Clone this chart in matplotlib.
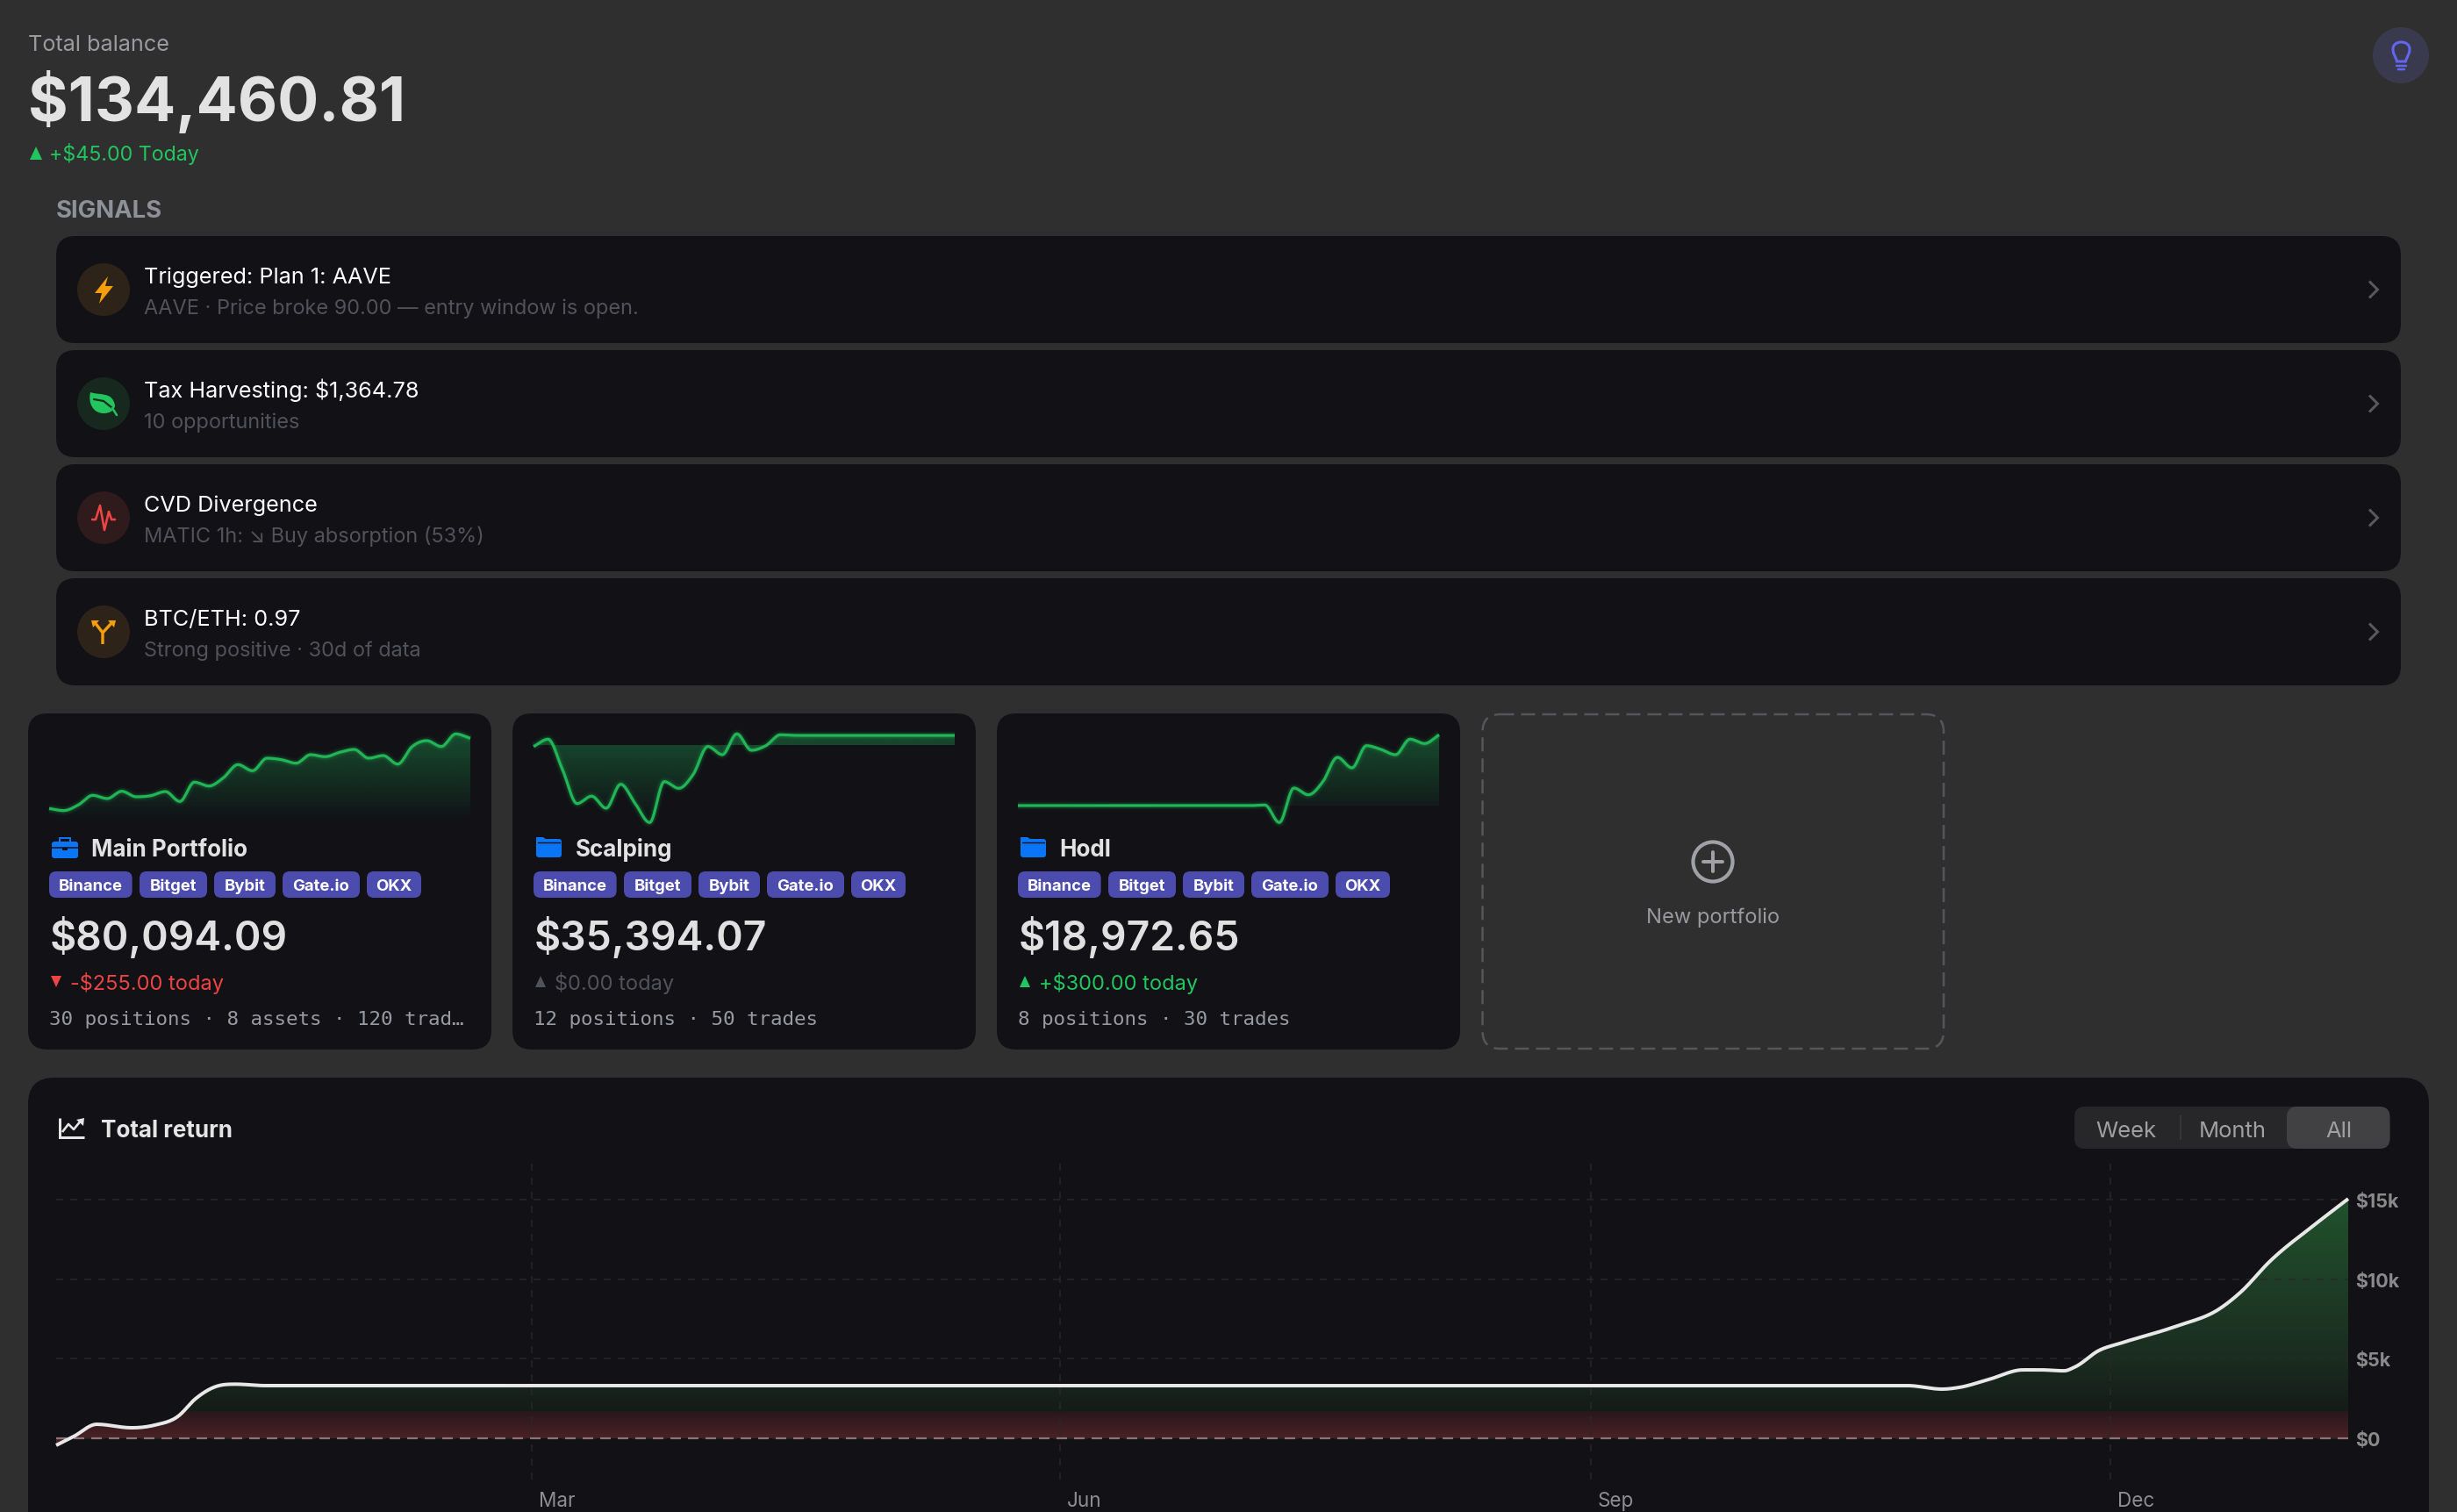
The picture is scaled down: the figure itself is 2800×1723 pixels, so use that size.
import numpy as np
import matplotlib
matplotlib.use("Agg")
import matplotlib.pyplot as plt
from matplotlib.patches import FancyBboxPatch, Circle, Polygon, PathPatch, Rectangle
from matplotlib.path import Path
from matplotlib.transforms import ScaledTranslation

W, H = 2800, 1724
PX = 0.72
plt.rcParams['font.family'] = ['Inter', 'DejaVu Sans']

# ------------------ data ------------------
total_balance = "$134,460.81"
signal_titles = ["Triggered: Plan 1: AAVE", "Tax Harvesting: $1,364.78", "CVD Divergence", "BTC/ETH: 0.97"]
signal_subs = ["AAVE · Price broke 90.00 — entry window is open.", "10 opportunities",
               "MATIC 1h: ↘ Buy absorption (53%)", "Strong positive · 30d of data"]
exchanges = ["Binance", "Bitget", "Bybit", "Gate.io", "OKX"]
portfolio_names = ["Main Portfolio", "Scalping", "Hodl"]
portfolio_values = ["$80,094.09", "$35,394.07", "$18,972.65"]
portfolio_changes = ["-$255.00 today", "$0.00 today", "+$300.00 today"]
portfolio_stats = ["30 positions · 8 assets · 120 trad…", "12 positions · 50 trades", "8 positions · 30 trades"]

spark_main = [17.7, 15.3, 21.7, 32.7, 29, 37.3, 31, 32.3, 37, 25.7, 47.7, 43.3, 52.7, 67.7, 60.7,
              75, 73.3, 69.3, 79, 76.7, 81.7, 85, 75, 78, 68.3, 88.3, 95, 88.3, 102.7, 97.7]
spark_scalping = [88.3, 96.7, 61.7, 23.3, 31.7, 18, 45.3, 23.3, 1.7, 48.3, 40.7, 56.7, 88.3, 79, 102.7,
                  84, 89.3, 101.7, 101, 101, 101, 101, 101, 101, 101, 101, 101, 101, 101, 101]
spark_hodl = [21, 21, 21, 21, 21, 21, 21, 21, 21, 21, 21, 21, 21, 21, 21, 21, 21,
              21.7, 1.7, 41, 33.3, 48.3, 76, 64, 89.3, 85, 79, 96.7, 91.7, 101.7]

return_days = [0, 3, 7, 13, 17, 21, 24, 27.5, 31, 36, 100, 200, 300, 319, 325, 328, 333, 339, 342,
               346, 348, 352, 356, 365, 373, 376.5, 381.5, 389.2, 395]
return_usd = [-441, 110, 880, 660, 830, 1380, 2480, 3250, 3400, 3310, 3310, 3310, 3310, 3310, 3090,
              3200, 3690, 4300, 4300, 4240, 4500, 5510, 6000, 7000, 8180, 9195, 11120, 13420, 15050]
month_days = [82, 173, 264.5, 354]
month_labels = ["Mar", "Jun", "Sep", "Dec"]
usd_ticks = [0, 5000, 10000, 15000]
usd_labels = ["$0", "$5k", "$10k", "$15k"]
range_labels = ["Week", "Month", "All"]

# ------------------ colours ------------------
BG = "#2f2f2f"
CARD = "#111116"
GREEN = "#22c55e"
LINE_G = "#22b556"
RED = "#ef4444"
AMBER = "#f59e0b"
BLUE = "#0a76f5"


def smooth(x, y, n=14):
    """Cubic Hermite curve through the read points, with limited tangents."""
    x = np.asarray(x, float)
    y = np.asarray(y, float)
    h = np.diff(x)
    d = np.diff(y) / h
    m = np.zeros_like(y)
    for i in range(1, len(y) - 1):
        if d[i - 1] * d[i] > 0:
            v = (h[i] * d[i - 1] + h[i - 1] * d[i]) / (h[i] + h[i - 1])
            lim = 3 * min(abs(d[i - 1]), abs(d[i]))
            m[i] = np.sign(v) * min(abs(v), lim)
    m[0], m[-1] = d[0], d[-1]
    xs, ys = [], []
    for i in range(len(h)):
        t = np.linspace(0, 1, n, endpoint=False)
        a = (2 * t**3 - 3 * t**2 + 1) * y[i] + (t**3 - 2 * t**2 + t) * h[i] * m[i]
        b = (-2 * t**3 + 3 * t**2) * y[i + 1] + (t**3 - t**2) * h[i] * m[i + 1]
        xs.append(x[i] + t * h[i])
        ys.append(a + b)
    return np.r_[np.concatenate(xs), x[-1]], np.r_[np.concatenate(ys), y[-1]]


fig = plt.figure(figsize=(W / 100, H / 100), dpi=100, facecolor=BG)
ui = fig.add_axes([0, 0, 1, 1], zorder=0)
ui.set_xlim(0, W)
ui.set_ylim(H, 0)
ui.axis("off")


def box(x0, y0, x1, y1, r, fc, ec="none", lw=0, ls="-", z=1):
    p = FancyBboxPatch((x0, y0), x1 - x0, y1 - y0, boxstyle=f"round,pad=0,rounding_size={r}",
                       fc=fc, ec=ec, lw=lw, ls=ls, zorder=z)
    ui.add_patch(p)
    return p


def T(x, y, s, px, c, weight="normal", ha="left", va="baseline", family=None, z=6):
    kw = {"family": family} if family else {}
    return ui.text(x, y, s, fontsize=px * PX, color=c, fontweight=weight, ha=ha, va=va, zorder=z, **kw)


def stroke(pts, c, px=3.0, z=5, cap="round", join="round"):
    xs, ys = zip(*pts)
    ui.plot(xs, ys, color=c, lw=px * PX, solid_capstyle=cap, solid_joinstyle=join, zorder=z)


def poly(pts, c, z=5):
    ui.add_patch(Polygon(pts, closed=True, fc=c, ec="none", zorder=z))


def tri(x0, x1, y0, y1, c, up=True):
    if up:
        poly([(x0, y1), (x1, y1), ((x0 + x1) / 2, y0)], c)
    else:
        poly([(x0, y0), (x1, y0), ((x0 + x1) / 2, y1)], c)


# ------------------ header ------------------
T(32, 58, "Total balance", 25.2, "#9a9aa0")
T(32, 138, total_balance, 69.8, "#e2e2e2", "bold")
tri(34, 48, 168, 183, GREEN)
T(56, 183, "+$45.00 Today", 23.2, GREEN)
T(64, 248, "SIGNALS", 27.5, "#90909a", "bold")

ui.add_patch(Circle((2736, 64), 32, fc="#3a3a4e", ec="none", zorder=2))
V = "#6366f1"
bulb = Path([(2731.5, 71), (2730, 65), (2727, 63), (2727, 57), (2727, 52), (2731, 49), (2736.5, 49),
             (2742, 49), (2746, 52), (2746, 57), (2746, 63), (2743, 65), (2741.5, 71), (2731.5, 71)],
            [Path.MOVETO] + [Path.CURVE4] * 12 + [Path.CLOSEPOLY])
ui.add_patch(PathPatch(bulb, fc="none", ec=V, lw=3 * PX, zorder=5))
stroke([(2731, 76), (2742, 76)], V, 2.5)
stroke([(2733, 80), (2740, 80)], V, 2.5)

# ------------------ signals ------------------
rows = [(270, 392), (400, 522), (530, 652), (660, 782)]
circ = ["#2e2318", "#17291e", "#2f1a1c", "#2e2318"]
for i, (y0, y1) in enumerate(rows):
    box(64, y0, 2736, y1, 22, CARD)
    cy = (y0 + y1) / 2
    ui.add_patch(Circle((118, cy), 30, fc=circ[i], ec="none", zorder=2))
    T(164, y0 + 53, signal_titles[i], 25.2, "#ffffff")
    T(164, y0 + 88, signal_subs[i], 23.5, "#52525a")
    stroke([(2700, cy - 9.5), (2709.5, cy), (2700, cy + 9.5)], "#58585e", 3, cap="butt", join="miter")

poly([(123, 316), (108, 335), (116, 335), (113, 347), (129, 327), (120, 327)], AMBER)
leaf = Path([(103, 448), (115, 452), (128, 447), (131, 463), (131, 467), (127, 472), (118, 472),
             (106, 472), (100, 460), (103, 448), (103, 448)],
            [Path.MOVETO] + [Path.CURVE4] * 9 + [Path.CLOSEPOLY])
ui.add_patch(PathPatch(leaf, fc=GREEN, ec="none", zorder=5))
stroke([(107, 456), (118, 458), (128, 466), (133, 474)], "#17291e", 2.2, z=6)
stroke([(128, 466), (133, 474)], GREEN, 2.5, z=7)
stroke([(105, 593), (109, 593), (114, 577), (119, 605), (124, 584), (127, 593), (131, 593)], RED, 2.6)
stroke([(117, 735), (117, 722), (107, 709)], AMBER, 3.4, cap="butt")
stroke([(117, 722), (129, 709)], AMBER, 3.4, cap="butt")
poly([(104, 708), (113, 708), (106, 716)], AMBER)
poly([(132, 708), (123, 708), (130, 716)], AMBER)

# ------------------ portfolio cards ------------------
cards = [32, 584, 1136]
sparks = [spark_main, spark_scalping, spark_hodl]
bases = [0, 90, 21]
change_cols = [RED, "#52525a", GREEN]
chip_off = [(24, 118.6), (127, 204), (212, 282), (290, 378), (386, 448)]
for i, x0 in enumerate(cards):
    box(x0, 814, x0 + 528, 1197, 22, CARD)
    # sparkline: own axes, value range 0..140 over pixels 940..800
    sx0, sx1 = x0 + 24, x0 + 504
    ax = fig.add_axes([sx0 / W, 1 - 940 / H, (sx1 - sx0) / W, 140 / H], zorder=2)
    ax.patch.set_alpha(0)
    ax.axis("off")
    xs, ys = smooth(np.arange(30), sparks[i])
    ax.set_xlim(0, 29)
    ax.set_ylim(0, 140)
    grad = np.zeros((256, 1, 4))
    grad[..., 0], grad[..., 1], grad[..., 2] = 34 / 255, 197 / 255, 94 / 255
    grad[:, 0, 3] = np.clip(0.33 * (np.linspace(140, 0, 256) - 2) / 101, 0, 1)
    base = bases[i]
    region = ax.fill_between(xs, ys, base, color="none", lw=0)
    im = ax.imshow(grad, extent=(0, 29, 0, 140), aspect="auto", zorder=1, origin="upper")
    im.set_clip_path(region.get_paths()[0], ax.transData)
    ax.set_xlim(0, 29)
    ax.set_ylim(0, 140)
    for lw, a in ((11, 0.05), (8, 0.08), (5.5, 0.14)):
        ax.plot(xs, ys, color=LINE_G, lw=lw * PX, alpha=a, zorder=2, solid_capstyle="butt", clip_on=False)
    ax.plot(xs, ys, color=LINE_G, lw=3.2 * PX, zorder=3, solid_capstyle="butt", clip_on=False)

    # name + icon
    ix = x0 + 27
    if i == 0:
        box(ix, 960, ix + 30, 979, 3, BLUE, z=3)
        ui.add_patch(Rectangle((ix + 9, 956), 12, 5, fc="none", ec=BLUE, lw=2 * PX, zorder=3))
        stroke([(ix, 967), (ix + 30, 967)], CARD, 1.6)
        poly([(ix + 12, 967), (ix + 18, 967), (ix + 18, 970), (ix + 12, 970)], CARD)
    else:
        poly([(ix, 955), (ix + 8, 955), (ix + 12, 958), (ix, 965)], BLUE, z=3)
        box(ix, 957, ix + 29, 978, 3, BLUE, z=3)
        stroke([(ix + 2, 961), (ix + 27, 961)], CARD, 1.4)
    T(x0 + (72.5 if i == 0 else 71.5), 976, portfolio_names[i], 26, "#e2e2e2", "bold")
    # chips
    for (a, b), ex in zip(chip_off, exchanges):
        box(x0 + a, 994, x0 + b, 1024, 8, "#4b4cad", z=3)
        T(x0 + (a + b) / 2, 1015.5, ex, 18.5, "#ffffff", "bold", ha="center")
    T(x0 + 25, 1083, portfolio_values[i], 46.2, "#e0e0e0", "semibold")
    tri(x0 + 26, x0 + 38, 1113, 1126, change_cols[i], up=i != 0)
    T(x0 + 47.5, 1128, portfolio_changes[i], 23.6, change_cols[i])
    T(x0 + 24.5, 1168, portfolio_stats[i], 22.5, "#9a9aa2", family="DejaVu Sans Mono")

# new portfolio
box(1689.5, 815, 2215, 1196, 20, "none", ec="#55555c", lw=2.5 * PX, ls=(0, (16 / 2.5, 8 / 2.5)), z=2)
ui.add_patch(Circle((1952, 983), 22.5, fc="none", ec="#a0a0a8", lw=4.2 * PX, zorder=3))
stroke([(1941, 983), (1963, 983)], "#a0a0a8", 4)
stroke([(1952, 972), (1952, 994)], "#a0a0a8", 4)
T(1952, 1052, "New portfolio", 23.7, "#9a9aa0", ha="center")

# ------------------ total return card ------------------
box(32, 1229, 2768, 1800, 30, CARD)
stroke([(67.5, 1275), (67.5, 1297), (96, 1297)], "#e5e5e5", 3, cap="butt", join="miter")
stroke([(71, 1291), (78, 1282), (84, 1288), (93, 1277)], "#e5e5e5", 2.6, cap="butt")
poly([(87, 1277), (96, 1275), (95, 1284)], "#e5e5e5")
T(115, 1296, "Total return", 26, "#e5e5e5", "bold")

box(2364, 1262, 2723.5, 1310, 12, "#27272a", z=2)
box(2606, 1262, 2723.5, 1310, 12, "#414143", z=3)
stroke([(2485, 1272), (2485, 1300)], "#3c3c3f", 1.5, cap="butt")
for cx, lab in zip((2423, 2544, 2665), range_labels):
    T(cx, 1296, lab, 25.6, "#a0a0a3", ha="center")

# chart axes: pixels x 64..2676, y 1325..1687; $0 at 1640, $15k at 1368
Y_PER_PX = 15000 / (1640 - 1368)
ax = fig.add_axes([64 / W, 1 - 1687 / H, (2676 - 64) / W, (1687 - 1325) / H], zorder=2)
ax.patch.set_alpha(0)
for s in ax.spines.values():
    s.set_visible(False)
yb, yt = (1640 - 1687) * Y_PER_PX, (1640 - 1325) * Y_PER_PX
xs, ys = smooth(return_days, return_usd)
region = ax.fill_between(xs, ys, 0, color="none", lw=0)
stops = [(1368, (33, 82, 45)), (1549, (27, 44, 32)), (1609, (20, 28, 24)), (1610, (42, 24, 28)),
         (1640, (74, 33, 37)), (1687, (74, 33, 37))]
rowspx = np.linspace(1325, 1687, 724)
rgb = np.stack([np.interp(rowspx, [a for a, _ in stops], [c[k] for _, c in stops]) for k in range(3)], -1) / 255
im = ax.imshow(rgb[:, None, :], extent=(0, 395, yb, yt), aspect="auto", origin="upper", zorder=1)
im.set_clip_path(region.get_paths()[0], ax.transData)
ax.set_xlim(0, 395)
ax.set_ylim(yb, yt)
ax.set_xticks(month_days)
ax.set_xticklabels(month_labels)
ax.set_yticks(usd_ticks)
ax.set_yticklabels(usd_labels)
ax.yaxis.tick_right()
ax.tick_params(axis="both", length=0)
ax.tick_params(axis="x", pad=13.5 * PX, labelsize=22.5 * PX, labelcolor="#8e8e8e")
ax.tick_params(axis="y", pad=8 * PX, labelsize=21.5 * PX, labelcolor="#8a8a8a")
for t in ax.get_yticklabels():
    t.set_fontweight("bold")
off = ScaledTranslation(8 / 100, 0, fig.dpi_scale_trans)
for t in ax.get_xticklabels():
    t.set_ha("left")
    t.set_transform(t.get_transform() + off)
ax.grid(True, color="#27282c", lw=1.5 * PX, ls=(0, (8 / 1.5, 8 / 1.5)), zorder=1.5)
ax.axhline(0, color="#8a7478", lw=2.2 * PX, ls=(0, (12 / 2.2, 8 / 2.2)), zorder=2)
ax.plot(xs, ys, color="#e8e8e8", lw=4 * PX, zorder=3, solid_capstyle="butt", clip_on=False)

fig.savefig("out.png", dpi=100, facecolor=BG)
